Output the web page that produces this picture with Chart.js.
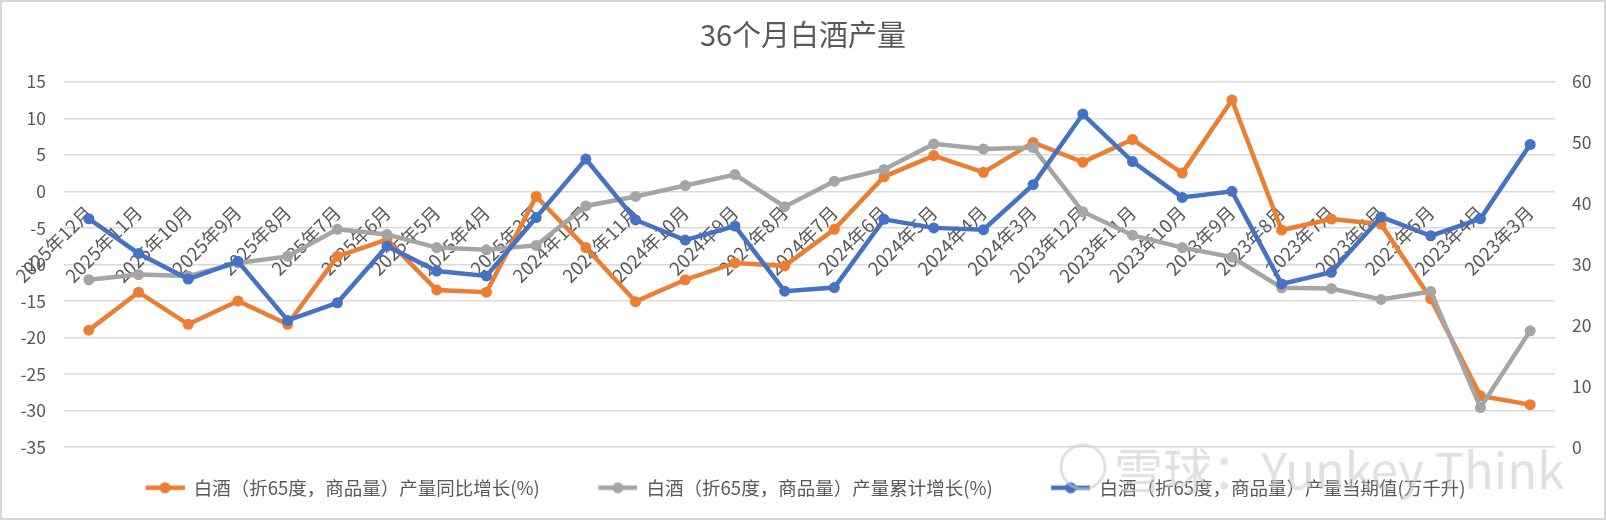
<!DOCTYPE html>
<html lang="zh-CN">
<head>
<meta charset="UTF-8">
<title>36个月白酒产量</title>
<script src="https://cdn.jsdelivr.net/npm/chart.js@4.4.1/dist/chart.umd.min.js"></script>
<style>
  html, body { margin: 0; padding: 0; background: #fff; }
  #wrap { width: 1606px; height: 520px; }
</style>
</head>
<body>
<div id="wrap"><canvas id="myChart"></canvas></div>
<script>
    // 月份（从新到旧）
    var months = ['2025年12月', '2025年11月', '2025年10月', '2025年9月', '2025年8月', '2025年7月',
        '2025年6月', '2025年5月', '2025年4月', '2025年3月', '2024年12月', '2024年11月',
        '2024年10月', '2024年9月', '2024年8月', '2024年7月', '2024年6月', '2024年5月',
        '2024年4月', '2024年3月', '2023年12月', '2023年11月', '2023年10月', '2023年9月',
        '2023年8月', '2023年7月', '2023年6月', '2023年5月', '2023年4月', '2023年3月'];

    // 产量同比增长(%)
    var yoyGrowth = [-19.0, -13.8, -18.2, -15.0, -18.2, -8.9, -6.6, -13.5, -13.8, -0.7,
        -7.7, -15.1, -12.1, -9.8, -10.2, -5.2, 2.0, 4.9, 2.6, 6.7,
        4.0, 7.1, 2.5, 12.5, -5.3, -3.8, -4.5, -14.7, -28.0, -29.2];

    // 产量累计增长(%)
    var cumGrowth = [-12.1, -11.4, -11.6, -9.8, -8.9, -5.2, -5.9, -7.7, -8.0, -7.4,
        -2.0, -0.7, 0.8, 2.3, -2.1, 1.4, 3.0, 6.5, 5.8, 6.0,
        -2.8, -6.0, -7.7, -9.0, -13.2, -13.3, -14.8, -13.7, -29.6, -19.1];

    // 产量当期值(万千升)
    var output = [37.5, 31.8, 27.6, 30.5, 20.8, 23.7, 33.0, 28.9, 28.1, 37.7,
        47.3, 37.3, 34.0, 36.3, 25.6, 26.2, 37.4, 36.0, 35.7, 43.1,
        54.7, 46.9, 41.0, 42.0, 26.8, 28.7, 37.8, 34.7, 37.5, 49.7];

    var names = ['白酒（折65度，商品量）产量同比增长(%)',
        '白酒（折65度，商品量）产量累计增长(%)',
        '白酒（折65度，商品量）产量当期值(万千升)'];
    var colors = ['#ED7D31', '#A5A5A5', '#4472C4'];

    Chart.defaults.font.family = "'Noto Sans CJK SC', 'Noto Sans', sans-serif";
    Chart.defaults.color = '#595959';

    // legend marker: line with a dot, left part left blank as spacing
    function makeMarker(color) {
        var c = document.createElement('canvas');
        c.width = 66;
        c.height = 14;
        var g = c.getContext('2d');
        g.strokeStyle = color;
        g.fillStyle = color;
        g.lineWidth = 4.5;
        g.beginPath();
        g.moveTo(27, 7);
        g.lineTo(66, 7);
        g.stroke();
        g.beginPath();
        g.arc(46.5, 7, 5.5, 0, Math.PI * 2);
        g.fill();
        return c;
    }
    var markers = colors.map(makeMarker);

    var frame = {
        id: 'frame',
        afterLayout: function (chart) {
            // legend sits a little left of centre in the original
            chart.legend.left -= 11;
            chart.legend.right -= 11;
        },
        afterDraw: function (chart) {
            var ctx = chart.ctx;
            ctx.save();
            // watermark
            ctx.globalAlpha = 0.55;
            ctx.strokeStyle = '#c8c8c8';
            ctx.lineWidth = 3;
            ctx.beginPath();
            ctx.arc(1083, 467, 22, 0, Math.PI * 2);
            ctx.stroke();
            ctx.fillStyle = '#c8c8c8';
            ctx.font = "49px 'Noto Sans CJK SC'";
            ctx.textBaseline = 'alphabetic';
            ctx.fillText('雪球：Yunkey Think', 1114, 489);
            ctx.restore();
            // outer border
            ctx.save();
            ctx.strokeStyle = '#d9d9d9';
            ctx.lineWidth = 2;
            ctx.strokeRect(1, 1, chart.width - 2, chart.height - 2);
            ctx.restore();
        }
    };

    var ctx = document.getElementById('myChart').getContext('2d');
    var chart = new Chart(ctx, {
        type: 'line',
        data: {
            labels: months,
            datasets: [{
                label: names[0],
                data: yoyGrowth,
                yAxisID: 'y',
                borderColor: colors[0],
                backgroundColor: colors[0],
                order: 2
            }, {
                label: names[1],
                data: cumGrowth,
                yAxisID: 'y',
                borderColor: colors[1],
                backgroundColor: colors[1],
                order: 1
            }, {
                label: names[2],
                data: output,
                yAxisID: 'y1',
                borderColor: colors[2],
                backgroundColor: colors[2],
                order: 0
            }]
        },
        options: {
            responsive: true,
            maintainAspectRatio: false,
            animation: false,
            layout: { padding: { left: 0, right: 0, top: 0, bottom: 13 } },
            elements: {
                line: { borderWidth: 4.5, tension: 0 },
                point: { radius: 5.5, borderWidth: 0, hoverRadius: 6 }
            },
            scales: {
                x: {
                    type: 'category',
                    position: { y: 0 },
                    offset: true,
                    grid: { display: false },
                    border: { display: false },
                    ticks: {
                        autoSkip: false,
                        minRotation: 45,
                        maxRotation: 45,
                        padding: 2,
                        color: '#595959',
                        font: { size: 18.5 }
                    }
                },
                y: {
                    position: 'left',
                    min: -35,
                    max: 15,
                    ticks: { stepSize: 5, padding: 18, font: { size: 17.5 } },
                    grid: { color: '#d9d9d9', lineWidth: 1.5, drawTicks: false },
                    border: { display: false },
                    afterFit: function (s) { s.width = 64; }
                },
                y1: {
                    position: 'right',
                    min: 0,
                    max: 60,
                    ticks: { stepSize: 10, padding: 17, font: { size: 17.5 } },
                    grid: { display: false, drawTicks: false },
                    border: { display: false },
                    afterFit: function (s) { s.width = 51; }
                }
            },
            plugins: {
                title: {
                    display: true,
                    text: '36个月白酒产量',
                    color: '#595959',
                    font: { size: 29, weight: 'normal' },
                    padding: { top: 18, bottom: 29 }
                },
                legend: {
                    position: 'bottom',
                    labels: {
                        usePointStyle: true,
                        pointStyleWidth: 66,
                        padding: 31.5,
                        color: '#595959',
                        font: { size: 18.5 },
                        sort: function (a, b) { return a.datasetIndex - b.datasetIndex; },
                        generateLabels: function (chart) {
                            var items = Chart.defaults.plugins.legend.labels.generateLabels(chart);
                            items.forEach(function (it) { it.pointStyle = markers[it.datasetIndex]; });
                            return items;
                        }
                    }
                },
                tooltip: { enabled: false }
            }
        },
        plugins: [frame]
    });
</script>
</body>
</html>
